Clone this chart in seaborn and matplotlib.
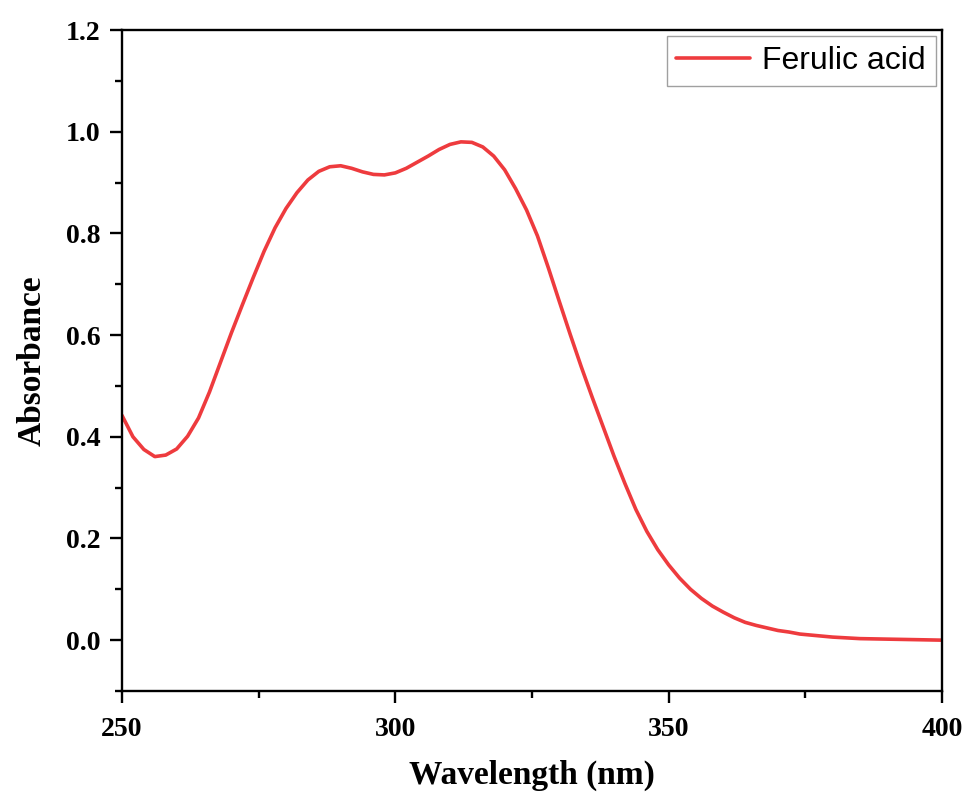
import matplotlib
matplotlib.use("Agg")
import matplotlib.pyplot as plt
from matplotlib.ticker import MultipleLocator
import seaborn as sns
import pandas as pd

wavelength = [250, 252, 254, 256, 258, 260, 262, 264, 266, 268, 270, 272, 274, 276, 278,
              280, 282, 284, 286, 288, 290, 292, 294, 296, 298, 300, 302, 304, 306, 308,
              310, 312, 314, 316, 318, 320, 322, 324, 326, 328, 330, 332, 334, 336, 338,
              340, 342, 344, 346, 348, 350, 352, 354, 356, 358, 360, 362, 364, 366, 368,
              370, 372, 374, 376, 378, 380, 385, 390, 395, 400]
absorbance = [0.442, 0.400, 0.375, 0.361, 0.364, 0.376, 0.401, 0.437, 0.488, 0.546, 0.604,
              0.659, 0.713, 0.765, 0.811, 0.849, 0.880, 0.905, 0.922, 0.931, 0.933, 0.928,
              0.921, 0.916, 0.915, 0.919, 0.928, 0.940, 0.952, 0.965, 0.975, 0.980, 0.979,
              0.970, 0.952, 0.925, 0.888, 0.846, 0.795, 0.732, 0.666, 0.601, 0.538, 0.478,
              0.420, 0.362, 0.308, 0.257, 0.214, 0.178, 0.148, 0.122, 0.100, 0.082, 0.067,
              0.055, 0.044, 0.035, 0.029, 0.024, 0.019, 0.016, 0.012, 0.010, 0.008, 0.006,
              0.003, 0.002, 0.001, 0.000]
series_name = "Ferulic acid"

df = pd.DataFrame({"Wavelength": wavelength, "Absorbance": absorbance, "Sample": series_name})

sns.set_style("ticks")
plt.rcParams["font.family"] = ["Liberation Serif", "DejaVu Serif"]
plt.rcParams["text.color"] = "black"
plt.rcParams["axes.labelcolor"] = "black"
plt.rcParams["xtick.color"] = "black"
plt.rcParams["ytick.color"] = "black"

fig = plt.figure(figsize=(9.71, 8.02), dpi=100)
ax = fig.add_axes([122 / 971, 1 - 691 / 802, (942 - 122) / 971, (691 - 30) / 802])

sns.lineplot(data=df, x="Wavelength", y="Absorbance", hue="Sample",
             palette=["#EE3B3E"], linewidth=2.6, ax=ax)

ax.set_xlim(250, 400)
ax.set_ylim(-0.1, 1.2)
ax.xaxis.set_major_locator(MultipleLocator(50))
ax.xaxis.set_minor_locator(MultipleLocator(25))
ax.yaxis.set_major_locator(MultipleLocator(0.2))
ax.yaxis.set_minor_locator(MultipleLocator(0.1))
ax.yaxis.set_major_formatter(matplotlib.ticker.FormatStrFormatter("%.1f"))

for s in ax.spines.values():
    s.set_linewidth(1.7)
    s.set_color("black")
ax.tick_params(which="major", direction="out", length=8.5, width=1.7,
               labelsize=20, labelcolor="black", color="black", top=False, right=False)
ax.tick_params(axis="x", which="major", pad=10)
ax.tick_params(axis="y", which="major", pad=7)
ax.tick_params(which="minor", direction="out", length=5, width=1.7,
               color="black", top=False, right=False)
for lbl in ax.get_xticklabels() + ax.get_yticklabels():
    lbl.set_fontweight("bold")

ax.set_xlabel("Wavelength (nm)", fontsize=24, fontweight="bold", labelpad=13, color="black")
ax.set_ylabel("Absorbance", fontsize=24, fontweight="bold", labelpad=13, color="black")

leg = ax.legend(loc="upper right", frameon=True, fancybox=False,
                edgecolor="#888888", handlelength=2.3, borderpad=0.3,
                handletextpad=0.4, borderaxespad=0.2,
                prop={"family": ["Liberation Sans", "DejaVu Sans"], "size": 23})
leg.get_frame().set_linewidth(1.0)
for t in leg.get_texts():
    t.set_color("black")

fig.savefig("out.png", dpi=100, facecolor="white")
